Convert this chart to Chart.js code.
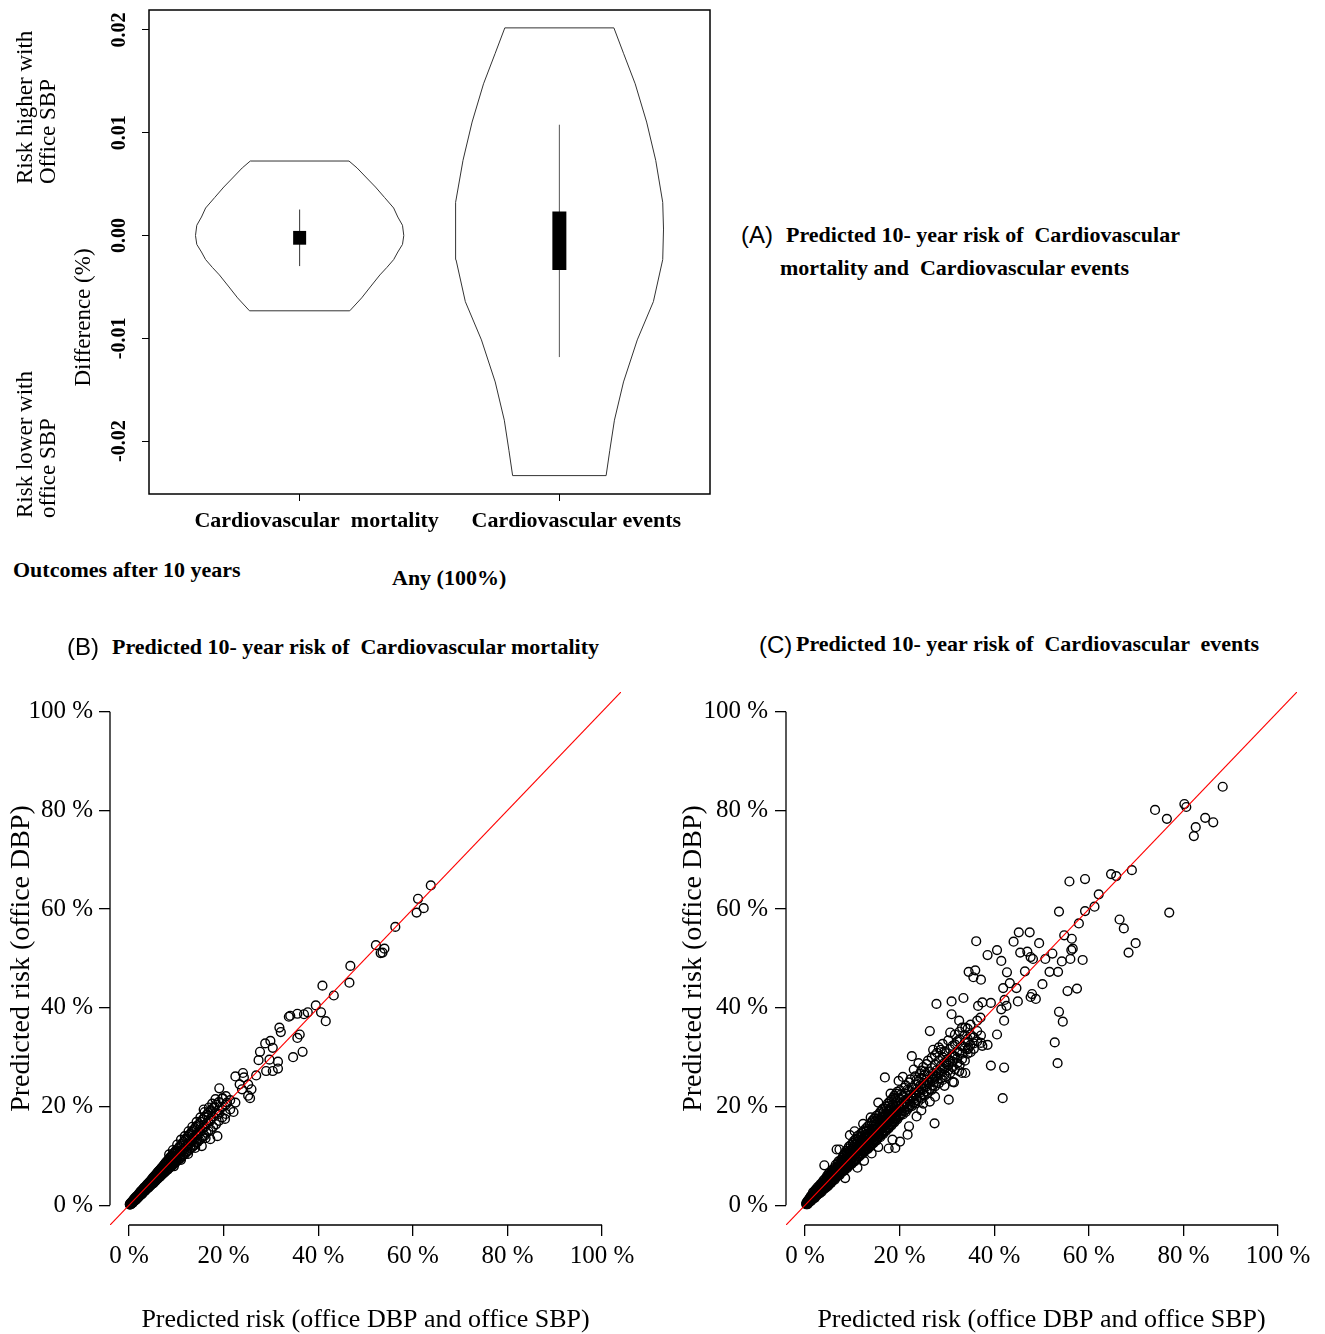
<!DOCTYPE html>
<html><head><meta charset="utf-8">
<script src="https://cdn.jsdelivr.net/npm/chart.js@4.4.1/dist/chart.umd.min.js"></script>
<style>
body{margin:0;background:#fff;width:1325px;height:1334px;position:relative;overflow:hidden}
canvas{position:absolute}
.t{position:absolute;white-space:pre;line-height:1;font-family:'Liberation Serif','Times New Roman',serif;color:#000}
.b{font-weight:bold;font-size:22px}
.s{font-family:'Liberation Sans',Arial,sans-serif;font-size:24px}
.r{font-size:23px;line-height:23px;transform:rotate(-90deg);transform-origin:center center}
</style></head><body>
<canvas id="ca" width="720" height="545" style="left:0;top:0"></canvas>
<canvas id="cb" width="650" height="664" style="left:0;top:670px"></canvas>
<canvas id="cc" width="650" height="664" style="left:675px;top:670px"></canvas>

<div class="t r" style="left:-49.5px;top:76px;width:170px;height:46px;text-align:left">Risk higher with
Office SBP</div>
<div class="t r" style="left:-49.5px;top:410px;width:170px;height:46px;text-align:left">Risk lower with
office SBP</div>
<div class="t r" style="left:-18px;top:305.5px;width:200px;height:23px;text-align:center">Difference (%)</div>

<div class="t s" style="left:741px;top:222.7px">(A)</div>
<div class="t b" style="left:786px;top:223.6px">Predicted 10- year risk of  Cardiovascular</div>
<div class="t b" style="left:780px;top:256.6px">mortality and  Cardiovascular events</div>
<div class="t b" style="left:13px;top:558.6px">Outcomes after 10 years</div>
<div class="t b" style="left:392px;top:566.6px">Any (100%)</div>
<div class="t s" style="left:67px;top:634.7px">(B)</div>
<div class="t b" style="left:112px;top:635.6px">Predicted 10- year risk of  Cardiovascular mortality</div>
<div class="t s" style="left:759px;top:632.7px">(C)</div>
<div class="t b" style="left:796px;top:632.6px">Predicted 10- year risk of  Cardiovascular  events</div>

<script>
// ---------- Panel A data ----------
const catLabels = ['Cardiovascular  mortality', 'Cardiovascular events'];
const aYTicks = [-0.02, -0.01, 0, 0.01, 0.02];
// violin outlines: difference value and half-width (x units), top to bottom
const v1Y = [0.00725, 0.00658, 0.0055, 0.00472, 0.0037, 0.00268, 0.0018, 0.001, 0, -0.00086, -0.0016, -0.00234, -0.0031, -0.00383, -0.005, -0.00606, -0.00732];
const v1W = [0.19, 0.221, 0.262, 0.292, 0.327, 0.362, 0.378, 0.396, 0.401, 0.396, 0.378, 0.362, 0.336, 0.309, 0.272, 0.239, 0.193];
const v2Y = [0.0202, 0.01773, 0.01476, 0.01104, 0.00732, 0.00323, 0.00063, -0.00234, -0.00643, -0.01015, -0.01424, -0.01796, -0.02093, -0.02335];
const v2W = [0.21, 0.247, 0.292, 0.336, 0.371, 0.398, 0.401, 0.398, 0.362, 0.300, 0.247, 0.212, 0.194, 0.18];
const boxLo = [-0.00089, -0.00335];
const boxHi = [0.00045, 0.00234];
const whiskLo = [-0.00297, -0.01182];
const whiskHi = [0.00253, 0.01078];

// ---------- Panels B / C data ----------
const pctTicks = [0, 20, 40, 60, 80, 100];
const refLine = [-4, 104];
const xTitle = 'Predicted risk (office DBP and office SBP)';
const yTitle = 'Predicted risk (office DBP)';

// dense band rows: [x, y1, y2, ...] (percent)
const bBand = [
[0.2,0.1,0.3,0.2],[0.4,0.2,0.5,0.3],[0.6,0.4,0.7,0.5],[0.8,0.6,0.9,0.5],[1.0,0.8,1.2,0.9],[1.2,1.0,1.4,0.9],[1.4,1.1,1.3,1.6],[1.6,1.4,1.8,1.2],[1.8,1.5,1.9,1.7],[2.0,1.7,2.2,1.6],
[2.2,1.9,2.4,2.0],[2.4,2.0,2.7,2.3],[2.6,2.2,2.5,2.9],[2.8,2.5,3.0,2.3],[3.0,2.6,3.3,2.9],[3.2,2.8,3.1,3.6],[3.4,3.0,3.7,2.9],[3.6,3.2,3.9,3.4],[3.8,3.3,3.6,4.2],[4.0,3.5,4.3,3.8],
[4.2,3.6,4.0,4.6],[4.4,3.9,4.7,4.3],[4.6,4.0,4.5,5.0],[4.8,4.3,5.2,4.6],[5.0,4.4,4.9,5.5],[5.2,4.5,5.1,5.7],[5.4,4.8,5.9,5.3],[5.6,4.9,5.5,6.1],[5.8,5.2,6.3,5.7],[6.0,5.3,5.9,6.6],
[6.2,5.5,6.1,6.8],[6.4,5.7,7.0,6.3],[6.6,5.8,6.5,7.2],[6.8,6.1,6.9,7.5],[7.0,6.2,6.8,7.7],[7.2,6.4,7.3,7.9],[7.4,6.6,7.1,8.2],[7.6,6.7,7.7,8.4],[7.8,7.0,7.5,8.7],[8.0,7.1,8.2,8.8],
[8.2,7.2,7.9,9.1],[8.4,7.5,8.5,9.3],[8.6,7.6,8.3,9.6],[8.8,7.9,8.9,9.8],[9.0,7.9,8.6,10.0],[9.2,8.2,9.3,10.1],[9.4,8.3,9.0,10.4],[9.6,8.6,9.7,10.7],[9.8,8.6,9.5,10.9],[10.0,8.9,10.1,11.1],
[10.3,9.1,9.8,11.4],[10.6,9.4,10.5,11.8],[10.9,9.5,10.2,12.1],[11.2,9.9,11.0,12.4],[11.5,10.2,11.4,12.8],[11.8,10.3,11.2,13.2],[12.1,10.8,12.0,13.5],[12.4,10.9,12.5,13.9],[12.7,11.2,12.4,14.2],[13.0,11.5,13.1,14.5],
[13.3,11.7,13.0,14.9],[13.6,12.1,13.7,15.2],[13.9,12.2,13.5,15.6],[14.2,12.7,14.3,15.9],[14.5,12.8,14.1,16.2],[14.8,13.2,14.9,16.4],[15.2,13.4,15.0,16.9],[15.6,13.9,15.7,17.4],[16.0,14.1,15.9,17.9],[16.4,14.7,16.6,18.3],
[16.8,15.0,16.9,18.8],[17.3,15.3,17.5,19.2],[17.8,15.9,18.0,19.7],[18.4,16.4,18.6,20.4],[19.0,17.1,19.2,20.9],[19.7,17.8,19.9,21.6],[20.5,18.5,20.4,22.1],[21.4,19.4,21.3],
[8.5,10.3],[9.3,11.2],[10.2,12.3],[11.0,13.3],[11.8,14.0],[12.6,15.0],[13.4,15.9],[14.3,16.9],[15.1,17.8],[16.0,18.9],[16.9,19.8],[17.6,20.6],[18.3,21.5],
[9.5,7.9],[11.0,9.2],[12.5,10.4],[14.0,11.6],[16.2,13.6]];
const bOut = [[63.8,64.8],[61.1,62.1],[60.8,59.3],[62.3,60.2],[56.3,56.4],[52.2,52.7],[53.2,51.1],[54.0,52.0],[53.6,51.2],[46.8,48.5],[46.6,45.1],[40.9,44.5],[43.3,42.5],[39.5,40.5],[40.6,39.1],[41.6,37.3],[33.8,38.2],[34.1,38.4],[35.6,38.8],[37.0,38.7],[37.8,39.1],[31.8,36.0],[32.1,35.1],[36.1,34.6],[35.6,33.9],[34.7,30.0],[36.7,31.1],[27.7,31.1],[28.8,32.8],[29.9,33.3],[30.4,31.9],[27.4,29.4],[29.7,29.5],[29.0,27.2],[30.4,27.2],[31.5,27.7],[31.5,29.1],[26.9,26.3],[24.1,26.8],[22.5,26.1],[24.3,25.9],[23.4,24.5],[25.2,24.5],[25.9,23.5],[25.6,21.7],[25.2,22.2],[23.9,23.5],[22.5,20.8],[20.7,20.8],[19.8,21.7],[19.1,23.7],[20.3,17.5],[22.1,18.9],[18.7,14.0],[17.2,13.4],[15.4,12.0],[15.8,19.4],[18.1,19.9],[19.0,18.5],[17.2,17.1]];

const cBand = [
[0.3,0.2,0.5,0.3],[0.5,0.4,0.8,0.2],[0.7,0.6,1.0,0.4],[0.9,0.7,1.3,0.9],[1.1,0.8,1.2,1.6],[1.3,1.0,1.5,1.9,0.9],[1.5,1.2,1.8,1.4],[1.7,1.3,2.2,1.7,2.6],[1.9,1.6,2.0,2.5],[2.1,1.5,2.3,2.9,1.9],
[2.3,1.9,2.6,3.2],[2.5,2.0,2.4,3.0,2.8],[2.7,2.2,3.3,2.7,3.7],[2.9,2.5,3.0,3.5],[3.1,2.4,3.4,2.9,4.0],[3.3,2.8,3.7,3.2,4.3],[3.5,3.0,3.5,4.1,2.7],[3.7,3.1,3.9,4.6,3.4],[3.9,3.4,4.2,3.7,5.0],[4.1,3.3,4.5,3.9,8.1],
[4.3,3.7,4.8,4.1,5.4],[4.5,3.6,4.4,5.2,4.9],[4.7,4.0,5.5,4.6,6.0],[4.9,4.2,4.8,5.7,3.9],[5.1,4.3,5.9,5.2,6.5],[5.3,4.6,5.4,6.3,4.9],[5.5,4.5,5.8,6.6,5.1],[5.7,4.9,6.1,5.6,7.0],[5.9,5.0,6.4,5.7,7.3],[6.1,5.3,6.0,7.0,6.6],
[6.3,5.2,6.7,5.9,7.6],[6.5,5.6,7.2,6.4,8.2],[6.7,5.8,6.6,7.6,11.3],[6.9,5.9,7.5,6.8,8.5],[7.1,6.2,7.9,7.0,8.9],[7.3,6.1,6.9,8.3,11.3],[7.5,6.5,7.6,8.7,7.2],[7.7,6.7,8.1,9.2,7.4],[7.9,6.8,8.5,7.7,9.6],[8.1,7.1,8.0,9.1,10.0],
[8.3,7.0,8.8,7.9,10.2],[8.5,5.5,7.4,9.3,8.4,10.5],[8.7,7.6,8.9,9.8,11.0],[8.9,7.5,8.3,9.6,10.7],[9.1,7.9,9.0,10.3,11.5],[9.3,8.0,9.6,8.7,11.9],[9.5,8.3,10.0,11.1,14.2],[9.7,8.5,9.3,10.6,12.2],[9.9,8.4,10.2,11.4,9.6],[10.1,8.8,9.8,11.0,12.6],
[10.3,9.0,10.6,11.8,13.0],[10.5,8.9,10.1,12.3,15.0],[10.7,9.4,11.1,10.4,13.4],[10.9,9.3,11.5,12.5,10.5],[11.1,7.6,9.8,11.0,12.9,14.0],[11.3,10.0,11.7,10.8,13.6],[11.5,9.9,12.2,11.3,13.2],[11.7,10.3,11.6,12.8,14.4],[11.9,10.5,12.4,11.2,14.0],[12.1,10.4,11.9,13.3,14.8],
[12.3,10.8,12.6,11.6,16.5],[12.5,9.0,11.1,12.3,13.7,15.2],[12.7,11.0,12.9,14.2,11.8],[12.9,11.3,12.4,13.8,15.6],[13.1,11.5,13.4,12.2,15.1],[13.3,11.4,12.9,14.5,16.0],[13.5,11.9,13.7,12.6,15.5],[13.7,12.1,14.2,13.3,16.4],[13.9,12.0,13.2,15.0,17.8],[14.1,10.5,12.5,14.4,13.6,16.8],
[14.3,12.7,14.0,15.4,17.2],[14.5,12.6,14.8,13.8,16.2],[14.7,13.0,14.3,15.9,17.6],[14.9,13.3,15.2,14.2,17.0],[15.1,13.1,14.7,16.3,18.1],[15.3,13.6,15.6,14.5,17.5],[15.5,11.8,13.9,15.1,16.8,20.8],[15.7,14.0,16.0,14.9,18.5],[15.9,13.8,15.5,17.2,18.9],[16.1,14.3,16.4,15.3,17.9],
[16.3,14.6,15.9,17.6,19.4],[16.5,14.4,16.8,15.7,19.6],[16.7,14.9,16.3,18.1,19.0],[16.9,15.2,17.2,16.1,25.9],[17.1,15.0,16.7,18.5,20.0],[17.3,15.5,17.6,16.5,19.5],[17.5,15.8,17.1,19.0,20.6],[17.7,11.5,15.6,18.0,16.9,20.2],[17.9,16.1,17.5,19.4,21.0],[18.1,16.4,18.4,17.3,22.6],
[18.3,16.2,17.9,19.8,21.4],[18.5,13.3,16.7,18.8,17.6,20.4],[18.7,17.0,18.3,20.3,21.8],[18.9,16.8,19.2,18.0,22.2],[19.1,11.6,17.3,18.7,20.7,21.6],[19.3,17.6,19.6,18.4,22.6],[19.5,17.4,19.1,21.1,23.0],[19.8,17.9,20.1,18.8,25.2],[20.1,12.9,18.2,19.6,21.6,23.3],[20.4,18.6,20.6,19.2,22.5],
[20.7,18.4,20.1,22.1,26.0],[21.0,19.1,21.1,19.8,23.8],[21.3,18.9,20.7,22.6,24.3],[21.7,14.3,19.5,21.6,20.4,23.4],[22.0,16.0,19.9,21.3,23.2,24.9],[22.3,20.3,22.3,21.0,25.5],[22.6,20.1,21.8,23.8,30.2],[23.0,20.8,22.9,21.6,27.5],[23.3,20.6,22.4,24.5,26.1],[23.6,18.0,21.3,23.5,22.2,25.4],
[24.0,21.1,23.1,25.1,28.8],[24.3,21.9,24.2,22.8,26.7],[24.6,19.2,21.6,23.7,25.8,27.3],[25.0,20.6,22.5,24.8,23.5,28.0],[25.3,22.2,24.4,26.4,27.1],[25.7,23.1,25.4,24.1,28.6],[26.0,22.8,25.0,27.1,29.3],[26.4,21.0,23.6,26.1,24.8,35.3],[26.8,23.4,25.7,27.8,29.9],[27.1,24.3,26.7,25.4,31.5],
[27.5,22.0,24.1,26.3,28.5,30.4],[27.9,25.0,27.4,26.1,30.9],[28.3,24.7,27.0,29.3,32.0],[28.7,25.7,28.2,26.8,31.5],[29.1,25.4,27.8,30.0,32.7],[29.5,24.2,26.4,28.9,27.6,31.2],[29.9,26.1,28.6,30.8,29.0],[30.3,27.3,29.6,28.3,33.4],[30.7,26.8,29.3,31.6,35.0],[31.2,25.0,28.0,30.4,29.1,32.3],
[31.7,27.6,30.1,32.6,34.6],[32.2,28.8,31.2,29.8,33.2],[32.7,28.4,30.9,33.6,35.2],[33.2,26.8,29.6,32.2,30.7,36.0],[33.8,29.3,31.8,34.5,33.0],[34.4,30.7,33.1,31.6,35.8],[35.0,31.0,32.5,34.6,36.6],[35.7,31.7,34.0,32.8],[36.4,33.2,35.3,37.4],[37.2,32.9,34.4]];
const cOut = [[88.3,84.8],[80.2,81.3],[80.6,80.7],[74.0,80.1],[76.5,78.3],[84.6,78.5],[86.3,77.6],[82.6,76.6],[82.2,74.8],[77.0,59.3],[69.1,67.9],[64.7,67.1],[65.8,66.7],[59.2,66.1],[55.9,65.6],[62.1,63.0],[61.2,60.5],[59.2,59.6],[53.7,59.5],[57.9,57.1],[66.5,57.9],[67.4,56.1],[69.9,53.1],[68.4,51.2],[54.8,54.7],[56.4,54.0],[56.6,52.0],[56.3,51.7],[54.3,49.4],[56.1,49.9],[58.7,49.7],[53.5,47.3],[51.7,47.3],[50.8,49.9],[52.3,51.0],[49.5,53.1],[47.5,55.3],[45.2,55.3],[44.1,53.4],[45.5,51.2],[47.0,51.4],[47.7,50.3],[48.2,49.9],[46.5,47.4],[50.2,44.8],[55.5,43.4],[57.5,43.9],[53.7,39.2],[54.5,37.2],[52.8,33.0],[53.4,28.8],[48.0,42.8],[48.8,41.8],[47.7,42.2],[45.0,41.3],[44.7,44.0],[43.3,45.0],[42.7,47.2],[41.5,49.5],[40.6,51.7],[38.6,50.7],[36.2,53.5],[34.6,47.3],[36.0,47.6],[35.6,46.2],[37.2,45.7],[27.8,40.8],[31.0,41.3],[33.5,42.0],[37.5,41.1],[39.3,41.0],[36.6,40.4],[41.9,44.0],[42.2,41.6],[42.6,40.4],[41.5,39.7],[42.1,37.4],[40.6,34.6],[37.1,38.0],[37.5,32.3],[38.6,32.5],[39.3,28.3],[42.1,27.9],[41.8,21.7],[31.0,38.7],[32.6,37.4],[33.9,36.0],[34.4,33.7],[34.6,31.9],[33.9,26.8],[32.6,27.2],[31.5,24.9],[30.4,21.4],[27.4,16.6]];

const SERIF = '"Liberation Serif", "Times New Roman", serif';
const expandRows = rows => rows.flatMap(r => r.slice(1).map(y => [r[0], y]));

// ---------- Panel A ----------
function outline(pos, ys, ws) {
  const pts = ys.map((y, i) => ({x: pos + ws[i], y}));
  for (let i = ys.length - 1; i >= 0; i--) pts.push({x: pos - ws[i], y: ys[i]});
  pts.push(pts[0]);
  return pts;
}
function seg(pos, lo, hi) { return [{x: pos, y: lo}, {x: pos, y: hi}]; }

const aDeco = {
  id: 'aDeco',
  afterDraw(chart) {
    const {ctx, chartArea: ca, scales: {y}} = chart;
    ctx.save();
    ctx.strokeStyle = '#000'; ctx.lineWidth = 1.5;
    ctx.strokeRect(ca.left, ca.top, ca.right - ca.left, ca.bottom - ca.top);
    ctx.fillStyle = '#000';
    ctx.font = 'bold 20px ' + SERIF;
    ctx.textAlign = 'center'; ctx.textBaseline = 'middle';
    y.ticks.forEach(t => {
      const py = y.getPixelForValue(t.value);
      ctx.save(); ctx.translate(120, py); ctx.rotate(-Math.PI / 2);
      ctx.fillText(t.value.toFixed(2), 0, 0);
      ctx.restore();
    });
    ctx.restore();
  }
};

const lineDs = (data, w, color, extra) => Object.assign({type: 'line', data, borderColor: color, borderWidth: w, pointRadius: 0, fill: false, tension: 0}, extra || {});

new Chart(document.getElementById('ca'), {
  type: 'scatter',
  data: {datasets: [
    lineDs(seg(1, boxLo[0], boxHi[0]), 13, '#000', {borderCapStyle: 'butt'}),
    lineDs(seg(2, boxLo[1], boxHi[1]), 14, '#000', {borderCapStyle: 'butt'}),
    lineDs(seg(1, whiskLo[0], whiskHi[0]), 1, '#333'),
    lineDs(seg(2, whiskLo[1], whiskHi[1]), 1, '#555'),
    lineDs(outline(1, v1Y, v1W), 1, '#333'),
    lineDs(outline(2, v2Y, v2W), 1, '#333')
  ]},
  options: {
    responsive: false, animation: false,
    layout: {padding: {left: 0, top: 10, right: 10, bottom: 0}},
    plugins: {legend: {display: false}, tooltip: {enabled: false}},
    scales: {
      x: {
        type: 'linear', min: 0.42, max: 2.58,
        afterBuildTicks: s => { s.ticks = catLabels.map((c, i) => ({value: i + 1})); },
        afterFit: s => { s.height = 51; s.paddingLeft = 0; s.paddingRight = 0; },
        ticks: {autoSkip: false, maxRotation: 0, minRotation: 0, padding: 7, labelOffset: 17, color: '#000',
                font: {family: SERIF, size: 22, weight: 'bold'}, callback: v => catLabels[v - 1]},
        grid: {drawOnChartArea: false, drawTicks: true, tickLength: 7, color: '#000', lineWidth: 1},
        border: {display: false}
      },
      y: {
        type: 'linear', min: -0.02514, max: 0.02194,
        afterBuildTicks: s => { s.ticks = aYTicks.map(v => ({value: v})); },
        afterFit: s => { s.width = 149; s.paddingTop = 0; s.paddingBottom = 0; },
        ticks: {display: false},
        grid: {drawOnChartArea: false, drawTicks: true, tickLength: 7, color: '#000', lineWidth: 1},
        border: {display: false}
      }
    }
  },
  plugins: [aDeco]
});

// ---------- Panels B and C ----------
const axisLines = {
  id: 'axisLines',
  afterDraw(chart) {
    const {ctx, chartArea: ca, scales: {x, y}} = chart;
    ctx.save();
    ctx.strokeStyle = '#000'; ctx.lineWidth = 1.3;
    ctx.beginPath();
    ctx.moveTo(ca.left, y.getPixelForValue(pctTicks[0]));
    ctx.lineTo(ca.left, y.getPixelForValue(pctTicks[pctTicks.length - 1]));
    ctx.moveTo(x.getPixelForValue(pctTicks[0]), ca.bottom);
    ctx.lineTo(x.getPixelForValue(pctTicks[pctTicks.length - 1]), ca.bottom);
    ctx.stroke();
    ctx.restore();
  }
};

function scatterChart(id, pts, o) {
  return new Chart(document.getElementById(id), {
    type: 'scatter',
    data: {datasets: [
      lineDs(refLine.map(v => ({x: v, y: v})), 1.2, '#ff0000'),
      {data: pts.map(p => ({x: p[0], y: p[1]})), pointRadius: 4.4, pointBorderWidth: 1.4,
       pointBackgroundColor: 'rgba(0,0,0,0)', pointBorderColor: '#000', showLine: false}
    ]},
    options: {
      responsive: false, animation: false,
      layout: {padding: {left: 0, top: o.top, right: o.right, bottom: 0}},
      plugins: {legend: {display: false}, tooltip: {enabled: false}},
      scales: {
        x: {
          type: 'linear', min: -4, max: 104,
          afterBuildTicks: s => { s.ticks = pctTicks.map(v => ({value: v})); },
          afterFit: s => { s.height = o.xh; s.paddingLeft = 0; s.paddingRight = 0; },
          ticks: {autoSkip: false, maxRotation: 0, minRotation: 0, padding: 5, color: '#000',
                  font: {family: SERIF, size: 25}, callback: v => v + ' %'},
          grid: {drawOnChartArea: false, drawTicks: true, tickLength: 11, color: '#000', lineWidth: 1.3},
          border: {display: false},
          title: {display: true, text: xTitle, color: '#000', font: {family: SERIF, size: 26, lineHeight: 1}, padding: {top: 0, bottom: 1}}
        },
        y: {
          type: 'linear', min: -4, max: 104,
          afterBuildTicks: s => { s.ticks = pctTicks.map(v => ({value: v})); },
          afterFit: s => { s.width = o.yw; s.paddingTop = 0; s.paddingBottom = 0; },
          ticks: {autoSkip: false, padding: o.yp, color: '#000',
                  font: {family: SERIF, size: 25}, callback: v => v + ' %'},
          grid: {drawOnChartArea: false, drawTicks: true, tickLength: 11, color: '#000', lineWidth: 1.3},
          border: {display: false},
          title: {display: true, text: yTitle, color: '#000', font: {family: SERIF, size: 28, lineHeight: 1}, padding: {top: o.tp, bottom: 0}}
        }
      }
    },
    plugins: [axisLines]
  });
}

scatterChart('cb', expandRows(bBand).concat(bOut), {top: 22, right: 29, xh: 109, yw: 110, yp: 6, tp: 8});
scatterChart('cc', expandRows(cBand).concat(cOut), {top: 22, right: 28, xh: 109, yw: 111, yp: 7, tp: 5});
</script>
</body></html>
